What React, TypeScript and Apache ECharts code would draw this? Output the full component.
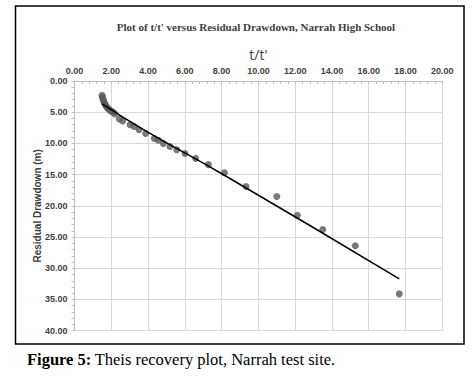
import React, { useEffect, useRef } from "react";
import * as echarts from "echarts";

const titleText = "Plot of t/t' versus Residual Drawdown, Narrah High School";
const xAxisName = "t/t'";
const yAxisName = "Residual Drawdown (m)";
const caption = "Theis recovery plot, Narrah test site.";

const ttRatio = [1.5, 1.52, 1.55, 1.58, 1.62, 1.67, 1.72, 1.78, 1.85, 1.93, 2.02, 2.11, 2.2, 2.44, 2.62, 3.02, 3.24, 3.51, 3.87, 4.34, 4.56, 4.83, 5.19, 5.56, 6.01, 6.59, 7.28, 8.15, 9.33, 11.0, 12.12, 13.5, 15.27, 17.66];
const drawdown = [2.3, 2.6, 2.9, 3.2, 3.5, 3.8, 4.0, 4.3, 4.5, 4.7, 4.9, 5.0, 5.3, 6.1, 6.4, 7.0, 7.3, 7.8, 8.4, 9.2, 9.5, 10.0, 10.5, 11.0, 11.6, 12.4, 13.4, 14.7, 16.9, 18.5, 21.5, 23.8, 26.4, 34.1];

const trendX = [1.51, 3.87, 8.15, 17.66];
const trendY = [3.67, 8.0, 15.1, 31.7];

export default function App() {
  const ref = useRef<HTMLDivElement>(null);
  useEffect(() => {
    const chart = echarts.init(ref.current!, null, { renderer: "svg" });
    chart.setOption({
      animation: false,
      backgroundColor: "#ffffff",
      grid: { left: 74.5, top: 81, right: 29.7, bottom: 46.3 },
      title: {
        text: titleText,
        left: 251,
        top: 16,
        textAlign: "center",
        textStyle: { fontFamily: "Liberation Serif", fontWeight: "bold", fontSize: 11, color: "#404040" },
      },
      xAxis: {
        type: "value",
        position: "top",
        min: 0,
        max: 20,
        interval: 2,
        name: xAxisName,
        nameLocation: "middle",
        nameGap: 20,
        nameMoveOverlap: false,
        nameTextStyle: { fontFamily: "Open Sans", fontSize: 14, color: "#404040" },
        axisLine: { show: true, lineStyle: { color: "#bfbfbf" } },
        axisTick: { show: true, inside: true, length: 3, lineStyle: { color: "#bfbfbf" } },
        minorTick: { show: true, splitNumber: 5, length: 3, lineStyle: { color: "#bfbfbf" } },
        axisLabel: {
          formatter: (v: number) => v.toFixed(2),
          fontFamily: "Liberation Sans",
          fontWeight: "bold",
          fontSize: 9,
          color: "#404040",
          margin: 6,
        },
        splitLine: { show: true, lineStyle: { color: "#d9d9d9" } },
      },
      yAxis: {
        type: "value",
        inverse: true,
        min: 0,
        max: 40,
        interval: 5,
        name: yAxisName,
        nameLocation: "middle",
        nameGap: 32,
        nameRotate: 90,
        nameMoveOverlap: false,
        nameTextStyle: { fontFamily: "Liberation Sans", fontWeight: "bold", fontSize: 10, color: "#404040" },
        axisLine: { show: true, lineStyle: { color: "#bfbfbf" } },
        axisTick: { show: true, length: 3, lineStyle: { color: "#bfbfbf" } },
        minorTick: { show: true, splitNumber: 5, length: 3, lineStyle: { color: "#bfbfbf" } },
        axisLabel: {
          formatter: (v: number) => v.toFixed(2),
          fontFamily: "Liberation Sans",
          fontWeight: "bold",
          fontSize: 9,
          color: "#404040",
          margin: 7,
        },
        splitLine: { show: true, lineStyle: { color: "#d9d9d9" } },
      },
      series: [
        {
          type: "scatter",
          data: ttRatio.map((x, i) => [x, drawdown[i]]),
          symbolSize: 7,
          itemStyle: { color: "#595959" },
          z: 3,
        },
        {
          type: "line",
          data: trendX.map((x, i) => [x, trendY[i]]),
          smooth: true,
          showSymbol: false,
          symbol: "none",
          lineStyle: { color: "#000000", width: 1.5 },
          z: 4,
        },
      ],
      graphic: [
        {
          type: "rect",
          shape: { x: 15.5, y: 6, width: 448.5, height: 338 },
          style: { fill: "none", stroke: "#000000", lineWidth: 1.5 },
          silent: true,
        },
        {
          type: "text",
          x: 27,
          y: 351,
          style: {
            text: "{b|Figure 5:} {n|" + caption + "}",
            rich: {
              b: { fontFamily: "Liberation Serif", fontWeight: "bold", fontSize: 16.5, fill: "#000000" },
              n: { fontFamily: "Liberation Serif", fontSize: 16.5, fill: "#000000" },
            },
          },
        },
      ],
    });
    return () => chart.dispose();
  }, []);
  return (
    <div style={{ position: "absolute", left: 0, top: 0, width: 472, height: 377 }}>
      <div ref={ref} style={{ width: 472, height: 377 }} />
    </div>
  );
}
